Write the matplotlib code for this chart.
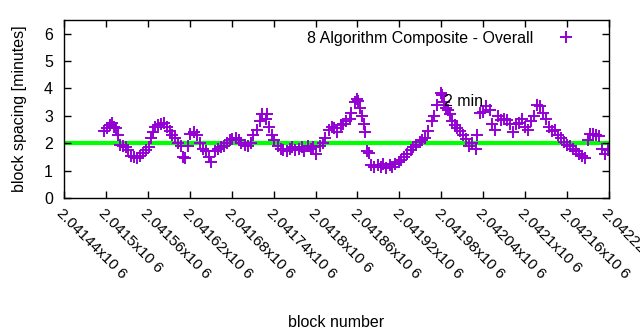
import numpy as np
import matplotlib
matplotlib.use("Agg")
import matplotlib.pyplot as plt
import matplotlib.transforms as mtransforms

plt.rcParams['font.family'] = ['Liberation Sans', 'DejaVu Sans']

block_base = 2041440
block_offsets = [57, 61, 66, 69, 71, 74, 77, 80, 84, 89, 91, 96, 100, 104, 109, 113, 117, 121, 124, 127,
                 130, 134, 139, 143, 147, 151, 154, 159, 163, 167, 170, 173, 177, 181, 186, 190, 194, 199, 203, 207,
                 211, 216, 220, 224, 229, 233, 237, 241, 246, 250, 254, 259, 263, 267, 271, 276, 280, 284, 289, 291,
                 294, 297, 301, 306, 310, 314, 319, 323, 327, 331, 336, 340, 344, 349, 353, 357, 361, 366, 370, 374,
                 379, 383, 387, 391, 396, 400, 404, 409, 411, 416, 419, 421, 424, 427, 430, 431, 434, 437, 440, 444,
                 449, 453, 457, 461, 466, 470, 474, 479, 483, 487, 491, 496, 500, 504, 509, 513, 517, 521, 526, 530,
                 534, 539, 541, 544, 547, 550, 553, 556, 559, 563, 567, 571, 576, 580, 584, 589, 591, 596, 600, 604,
                 609, 613, 617, 621, 626, 630, 634, 639, 643, 647, 651, 656, 660, 664, 669, 673, 677, 681, 686, 690,
                 694, 699, 703, 707, 711, 716, 720, 724, 729, 733, 737, 741, 746, 750, 753, 757, 761, 766, 770, 774, 779]
spacing = [2.45, 2.55, 2.65, 2.75, 2.6, 2.55, 2.3, 1.95, 1.9, 1.85, 1.75, 1.55, 1.5, 1.45, 1.55, 1.65, 1.75, 1.85, 2.2, 2.4,
           2.6, 2.65, 2.7, 2.75, 2.6, 2.45, 2.3, 2.2, 2.0, 1.9, 1.5, 1.45, 1.9, 2.35, 2.4, 2.3, 2.0, 1.8, 1.7, 1.5,
           1.3, 1.7, 1.8, 1.85, 1.9, 2.0, 2.1, 2.15, 2.2, 2.1, 2.0, 1.95, 1.9, 2.0, 2.3, 2.5, 2.8, 3.05, 2.9, 3.05,
           2.6, 2.3, 2.1, 1.9, 1.8, 1.75, 1.7, 1.8, 1.85, 1.75, 1.8, 1.85, 1.7, 1.9, 1.8, 1.85, 1.6, 1.9, 2.0, 2.2,
           2.5, 2.6, 2.55, 2.4, 2.65, 2.7, 2.8, 2.9, 3.1, 3.5, 3.6, 3.55, 3.3, 3.0, 2.7, 2.4, 1.7, 1.65, 1.2, 1.15,
           1.2, 1.15, 1.25, 1.1, 1.2, 1.15, 1.25, 1.3, 1.4, 1.5, 1.6, 1.75, 1.85, 1.95, 2.05, 2.1, 2.2, 2.45, 2.8, 3.0,
           3.4, 3.85, 3.75, 3.5, 3.3, 3.2, 3.05, 2.8, 2.65, 2.55, 2.45, 2.3, 2.15, 1.9, 2.0, 1.8, 2.3, 3.1, 3.15, 3.35,
           3.2, 2.7, 2.5, 3.0, 2.85, 2.9, 2.85, 2.7, 2.4, 2.7, 2.75, 2.9, 2.6, 2.5, 2.8, 3.0, 3.4, 3.35, 3.1, 2.9,
           2.6, 2.45, 2.5, 2.3, 2.2, 2.05, 1.95, 1.9, 1.8, 1.7, 1.6, 1.55, 1.45, 2.1, 2.35, 2.35, 2.3, 2.25, 1.8, 1.6, 1.75]

target = 2.0
xtick_vals = [2041440 + 60 * i for i in range(14)]
xtick_labels = ["2.04144x10 6", "2.0415x10 6", "2.04156x10 6", "2.04162x10 6", "2.04168x10 6",
                "2.04174x10 6", "2.0418x10 6", "2.04186x10 6", "2.04192x10 6", "2.04198x10 6",
                "2.04204x10 6", "2.0421x10 6", "2.04216x10 6", "2.04222x10 6"]
yticks = [0, 1, 2, 3, 4, 5, 6]

blocks = np.array(block_offsets) + block_base

fig = plt.figure(figsize=(6.4, 3.3), dpi=100)
ax = fig.add_axes([64/640, 1 - 198/330, (609-64)/640, (198-20)/330])

ax.axhline(target, color='#00ff00', lw=3, zorder=1)
ax.plot(blocks, spacing, linestyle='none', marker='+', markersize=8, markeredgewidth=1.4,
        color='#9400d3', label='8 Algorithm Composite - Overall', zorder=2)

ax.set_xlim(2041440, 2042220)
ax.set_ylim(0, 6.5)
ax.set_xticks(xtick_vals)
ax.set_xticklabels(xtick_labels, rotation=-45, ha='left', va='top', rotation_mode='anchor', fontsize=11)
offset = mtransforms.ScaledTranslation(4/100, -1/100, fig.dpi_scale_trans)
for lab in ax.get_xticklabels():
    lab.set_transform(lab.get_transform() + offset)
ax.set_yticks(yticks)
ax.set_yticklabels([str(v) for v in yticks], fontsize=11.5)
ax.tick_params(direction='in', length=5, top=True, right=True, width=1)
ax.tick_params(axis='x', pad=6)
ax.tick_params(axis='y', pad=8)
for s in ax.spines.values():
    s.set_linewidth(1)

ax.set_xlabel('block number', fontsize=11.5, labelpad=24)
ax.set_ylabel('block spacing [minutes]', fontsize=11.5, labelpad=12)
ax.text(2041984, 3.53, '2 min', fontsize=11.5, ha='left', va='center')

leg = ax.legend(loc='upper right', frameon=False, markerfirst=False, fontsize=11.5,
                bbox_to_anchor=(0.985, 1.02), handlelength=2.5)

fig.savefig('out.png', dpi=100)
